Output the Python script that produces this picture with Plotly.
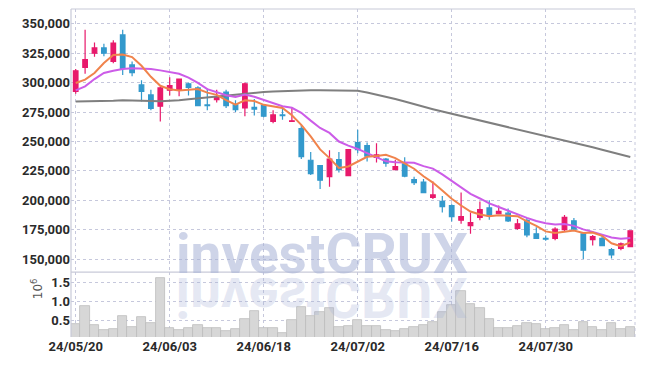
import base64
import plotly.graph_objects as go
from plotly.subplots import make_subplots

# ---------------- data ----------------
dates = ["24/05/20", "24/05/21", "24/05/22", "24/05/23", "24/05/24",
         "24/05/27", "24/05/28", "24/05/29", "24/05/30", "24/05/31",
         "24/06/03", "24/06/04", "24/06/05", "24/06/07",
         "24/06/10", "24/06/11", "24/06/12", "24/06/13", "24/06/14",
         "24/06/17", "24/06/18", "24/06/19", "24/06/20", "24/06/21",
         "24/06/24", "24/06/25", "24/06/26", "24/06/27", "24/06/28",
         "24/07/01", "24/07/02", "24/07/03", "24/07/04", "24/07/05",
         "24/07/08", "24/07/09", "24/07/10", "24/07/11", "24/07/12",
         "24/07/15", "24/07/16", "24/07/17", "24/07/18", "24/07/19",
         "24/07/22", "24/07/23", "24/07/24", "24/07/25", "24/07/26",
         "24/07/29", "24/07/30", "24/07/31", "24/08/01", "24/08/02",
         "24/08/05", "24/08/06", "24/08/07", "24/08/08", "24/08/09",
         "24/08/12"]

open_ = [292500, 313000, 325000, 329500, 318000, 340500, 315000, 298000, 289500, 280000,
         293500, 294000, 299000, 295500, 281000, 285500, 292000, 281000, 278500, 279000,
         280500, 267000, 272500, 267000, 261000, 234000, 229500, 220000, 234500, 221000,
         249000, 246500, 236500, 235000, 226000, 231000, 217500, 215500, 202500, 199000,
         195500, 183000, 178500, 185500, 193500, 188500, 189000, 176000, 183000, 171500,
         167500, 167500, 175000, 182500, 171500, 166500, 167500, 158000, 159000, 160500]
high = [311500, 345000, 334000, 333000, 336000, 345000, 318000, 302000, 294000, 296500,
        304500, 303500, 300000, 297000, 295000, 294000, 294000, 285000, 300000, 286000,
        281000, 276500, 278500, 278500, 264000, 241000, 230000, 242500, 241000, 243500,
        260000, 249000, 248500, 236000, 234500, 236500, 220000, 218000, 216000, 203500,
        196500, 206500, 189500, 199000, 200000, 195500, 193000, 184000, 185000, 177000,
        170000, 177000, 187500, 185000, 173000, 170500, 170500, 159500, 164000, 174500]
low = [290500, 307500, 322000, 322500, 316500, 306500, 305500, 284000, 276500, 267000,
       289000, 288500, 289000, 280000, 276500, 283000, 278500, 275000, 271500, 272000,
       270500, 265500, 268500, 266500, 235000, 221500, 209500, 211500, 223500, 220500,
       240000, 233000, 232000, 228500, 225500, 219500, 213000, 206000, 201000, 189500,
       182000, 180000, 171500, 183000, 183500, 188000, 181500, 175000, 168500, 167000,
       165500, 166000, 173500, 174000, 150000, 161500, 161000, 150500, 157500, 160000]
close = [310000, 319500, 329500, 325000, 333500, 312000, 308500, 292500, 278000, 295500,
         297500, 303000, 296000, 280500, 280500, 288000, 280500, 277000, 299000, 277500,
         271500, 272500, 272000, 267500, 237000, 222500, 217000, 235000, 226000, 243000,
         243000, 237500, 238500, 231500, 228500, 220500, 215000, 206500, 204500, 194500,
         186000, 186000, 181000, 192000, 187000, 190500, 182500, 180000, 170500, 167500,
         167000, 175500, 185500, 175500, 157500, 169000, 161500, 153500, 163000, 174000]

ma5 = [299700, 302500, 308200, 316700, 323500, 323900, 321700, 314300, 304900, 297300,
       294400, 293300, 294000, 294500, 291500, 289600, 285100, 281300, 285000, 284400,
       281100, 279500, 278500, 272200, 264100, 254300, 243200, 235800, 227500, 228700,
       232800, 236900, 237600, 238700, 235800, 231300, 226800, 220400, 215000, 208200,
       201300, 195500, 190400, 187900, 186400, 187300, 186600, 186400, 182100, 178200,
       173500, 172100, 173200, 174200, 172200, 172600, 169800, 163400, 160900, 164200]
ma10 = [293400, 296800, 303000, 308200, 310100, 311600, 312100, 311800, 311500, 310400,
        309200, 307500, 304200, 299700, 294400, 292000, 289200, 287700, 289800, 288000,
        285400, 282300, 279900, 278600, 274300, 267700, 261400, 257200, 249900, 246400,
        243600, 240100, 236700, 233100, 232300, 232100, 231900, 229000, 226900, 222000,
        216300, 211200, 205400, 201500, 197300, 194300, 191100, 188400, 185000, 182300,
        180400, 179400, 179800, 178200, 175200, 173100, 171000, 168300, 167300, 167900]
ma60 = [284000, 284000, 284000, 284100, 284600, 285000, 285000, 284600, 284400, 284200,
        284400, 285000, 285900, 286700, 287600, 288400, 289300, 290100, 290800, 291400,
        292000, 292500, 292900, 293300, 293500, 293600, 293600, 293500, 293400, 293300,
        293100, 291600, 289900, 288200, 286000, 283900, 281600, 279500, 277400, 275400,
        273500, 271700, 269800, 267900, 266200, 264400, 262500, 260600, 258800, 256900,
        255000, 253100, 251200, 249100, 247000, 245000, 242900, 240900, 238900, 236800]

volume_m = [0.42, 0.89, 0.39, 0.26, 0.28, 0.62, 0.34, 0.59, 0.44, 1.60,
            0.31, 0.26, 0.31, 0.39, 0.31, 0.31, 0.23, 0.28, 0.54, 0.75,
            0.31, 0.31, 0.18, 0.52, 0.85, 0.62, 0.72, 0.83, 0.34, 0.37,
            0.53, 0.37, 0.37, 0.27, 0.24, 0.29, 0.34, 0.40, 0.47, 0.72,
            0.91, 1.28, 0.94, 0.83, 0.54, 0.31, 0.31, 0.37, 0.45, 0.42,
            0.29, 0.32, 0.40, 0.27, 0.47, 0.34, 0.27, 0.45, 0.29, 0.34]

x_tick_labels = ["24/05/20", "24/06/03", "24/06/18", "24/07/02", "24/07/16", "24/07/30"]
price_ticks = [150000, 175000, 200000, 225000, 250000, 275000, 300000, 325000, 350000]
volume_ticks = [0.5, 1.0, 1.5]

# ---------------- style ----------------
UP = "#e8196b"
DOWN = "#3399cc"
GRID = "#c6c8dc"
FRAME = "#c8cad8"
TICKFONT = dict(family="Roboto, 'Open Sans', sans-serif", size=13, color="#2a2a2a", weight="bold")
WM_FONT = "Roboto, Liberation Sans, sans-serif"
WM_SIZE = 55

# page body has an 8px default margin: compensate in the figure margins
PLOT_W = 564.0
PLOT_H = 328.3
VOL_FRAC = 65.0 / PLOT_H

fig = make_subplots(rows=2, cols=1, shared_xaxes=True, vertical_spacing=0,
                    row_heights=[1 - VOL_FRAC, VOL_FRAC])

fig.add_trace(go.Candlestick(
    x=dates, open=open_, high=high, low=low, close=close,
    increasing=dict(line=dict(color=UP, width=1.2), fillcolor=UP),
    decreasing=dict(line=dict(color=DOWN, width=1.2), fillcolor=DOWN),
    whiskerwidth=0, showlegend=False, hoverinfo="skip"), row=1, col=1)

fig.add_trace(go.Scatter(x=dates, y=ma60, mode="lines",
                         line=dict(color="#7f7f7f", width=2), showlegend=False, hoverinfo="skip"),
              row=1, col=1)
fig.add_trace(go.Scatter(x=dates, y=ma10, mode="lines",
                         line=dict(color="#cc5ce8", width=2), showlegend=False, hoverinfo="skip"),
              row=1, col=1)
fig.add_trace(go.Scatter(x=dates, y=ma5, mode="lines",
                         line=dict(color="#f0834c", width=2), showlegend=False, hoverinfo="skip"),
              row=1, col=1)

fig.add_trace(go.Bar(x=dates, y=volume_m, marker=dict(color="#d7d7d7", line=dict(color="#bdbdbd", width=0.8)),
                     showlegend=False, hoverinfo="skip"), row=2, col=1)

fig.update_layout(
    width=637, height=358,
    margin=dict(l=63, r=10, t=1, b=28.7, autoexpand=False),
    paper_bgcolor="white", plot_bgcolor="white",
    bargap=0,
    showlegend=False,
)

common_x = dict(type="category", categoryorder="array", categoryarray=dates,
                range=[-0.5, len(dates) - 0.5], tickmode="array",
                tickvals=x_tick_labels, ticktext=x_tick_labels,
                showgrid=True, gridcolor=GRID, griddash="dot", gridwidth=1,
                zeroline=False, ticks="", rangeslider=dict(visible=False),
                tickfont=TICKFONT, automargin=False)
fig.update_xaxes(**common_x)
fig.update_xaxes(showticklabels=False, row=1, col=1)
fig.update_xaxes(showticklabels=True, row=2, col=1)

fig.update_yaxes(range=[138946, 362575], tickmode="array", tickvals=price_ticks,
                 ticktext=[f"{v:,}" for v in price_ticks], automargin=False,
                 showgrid=True, gridcolor=GRID, griddash="dot", gridwidth=1,
                 zeroline=False, ticks="", tickfont=TICKFONT, row=1, col=1)
fig.update_yaxes(range=[0.08, 1.758], tickmode="array", tickvals=volume_ticks,
                 ticktext=["0.5", "1.0", "1.5"], automargin=False,
                 showgrid=True, gridcolor=GRID, griddash="dot", gridwidth=1,
                 zeroline=False, ticks="", tickfont=TICKFONT, row=2, col=1)

# frame lines
shapes = [
    dict(type="line", xref="paper", yref="paper", x0=0, x1=0, y0=0, y1=1,
         line=dict(color=FRAME, width=1.2)),
    dict(type="line", xref="paper", yref="paper", x0=0, x1=1, y0=1, y1=1,
         line=dict(color=FRAME, width=1.2)),
    dict(type="line", xref="paper", yref="paper", x0=0, x1=1, y0=VOL_FRAC, y1=VOL_FRAC,
         line=dict(color=FRAME, width=1.2)),
    dict(type="line", xref="paper", yref="paper", x0=1, x1=1, y0=0, y1=1,
         line=dict(color=GRID, width=1, dash="dot")),
]
fig.update_layout(shapes=shapes)

# volume unit label (page x~28, y~302)
fig.add_annotation(xref="paper", yref="paper", x=(27 - 71) / PLOT_W, y=(337.3 - 302) / PLOT_H,
                   text="10<sup>6</sup>", textangle=-90, showarrow=False,
                   font=dict(family="DejaVu Sans, sans-serif", size=12, color="#555555"))

# watermark (baseline at page y~276, centre x~321)
WX = (321.5 - 71) / PLOT_W
BASE = 276.0
fig.add_annotation(xref="paper", yref="paper", x=WX, y=(337.3 - (BASE + 0.22 * WM_SIZE)) / PLOT_H,
                   xanchor="center", yanchor="bottom",
                   text="<b>investCRUX</b>", showarrow=False,
                   font=dict(family=WM_FONT, size=WM_SIZE, color="rgba(165,176,214,0.55)"))

svg = ('<svg xmlns="http://www.w3.org/2000/svg" width="420" height="60" viewBox="0 0 420 60">'
       '<text x="210" y="0" transform="scale(1,-1)" text-anchor="middle" '
       'font-family="' + WM_FONT + '" font-weight="700" font-size="' + str(WM_SIZE) + '" '
       'fill="rgb(165,176,214)" fill-opacity="0.28">investCRUX</text></svg>')
uri = "data:image/svg+xml;base64," + base64.b64encode(svg.encode()).decode()
fig.add_layout_image(dict(source=uri, xref="paper", yref="paper", x=WX, y=(337.3 - (BASE + 2)) / PLOT_H,
                          sizex=420 / PLOT_W, sizey=60 / PLOT_H, xanchor="center", yanchor="top",
                          sizing="stretch", layer="above"))

fig.write_html("out.html")
